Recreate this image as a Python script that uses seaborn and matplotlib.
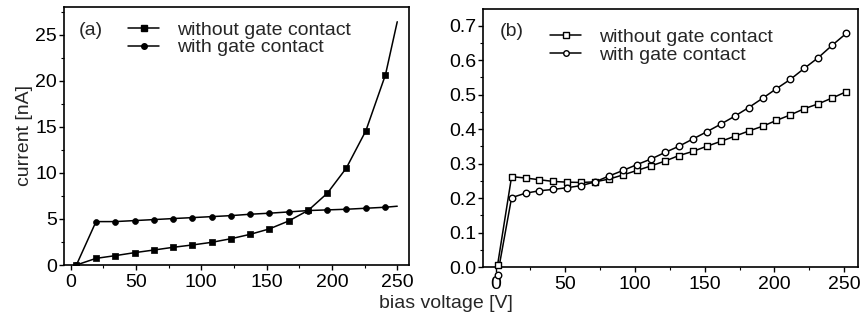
import matplotlib
matplotlib.use("Agg")
import matplotlib.pyplot as plt
from matplotlib.lines import Line2D
from matplotlib.ticker import MultipleLocator, FormatStrFormatter
import seaborn as sns

# ---- panel (a): current in nA ----
a_bias = [4.5, 19.5, 34, 49, 64, 78.5, 93, 108, 123, 137.5, 152, 167, 182, 196.5, 211, 226, 241]
a_without = [0.0, 0.72, 1.01, 1.34, 1.63, 1.92, 2.17, 2.46, 2.86, 3.33, 3.91, 4.78, 5.94, 7.79, 10.51, 14.57, 20.65]
a_with = [0.0, 4.71, 4.71, 4.82, 4.93, 5.04, 5.14, 5.25, 5.36, 5.51, 5.62, 5.76, 5.91, 5.98, 6.05, 6.16, 6.27]
# fitted curves continue to the end of the sweep
a_line_end_bias = 250
a_without_end = 26.4
a_with_end = 6.38

# ---- panel (b) ----
b_bias = [1.5, 11.5, 21.5, 31.5, 41.5, 51.5, 61.5, 71.5, 81.5, 91.5, 101.5, 111.5, 121.5,
          131.5, 141.5, 151.5, 161.5, 171.5, 181.5, 191.5, 201.5, 211.5, 221.5, 231.5, 241.5, 251.5]
b_without = [0.007, 0.262, 0.258, 0.253, 0.248, 0.246, 0.245, 0.247, 0.255, 0.267, 0.280, 0.293, 0.307,
             0.323, 0.335, 0.350, 0.364, 0.379, 0.394, 0.408, 0.425, 0.441, 0.459, 0.473, 0.490, 0.508]
b_with = [-0.022, 0.201, 0.214, 0.221, 0.225, 0.230, 0.236, 0.247, 0.264, 0.280, 0.297, 0.313, 0.332,
          0.350, 0.371, 0.392, 0.414, 0.437, 0.462, 0.489, 0.517, 0.544, 0.576, 0.607, 0.643, 0.677]

labels = ["without gate contact", "with gate contact"]

sns.set_theme(style="ticks")
plt.rcParams["font.family"] = ["Liberation Sans", "DejaVu Sans"]
plt.rcParams.update({
    "axes.linewidth": 1.2,
    "xtick.major.width": 1.0, "ytick.major.width": 1.0,
    "xtick.minor.width": 0.8, "ytick.minor.width": 0.8,
    "xtick.major.size": 3.5, "ytick.major.size": 3.5,
    "xtick.minor.size": 2.0, "ytick.minor.size": 2.0,
    "xtick.direction": "out", "ytick.direction": "out",
    "xtick.labelsize": 14, "ytick.labelsize": 14,
})

fig = plt.figure(figsize=(8.6, 3.2), dpi=100)
ax_a = fig.add_axes([64 / 860, 1 - 265 / 320, 345 / 860, 258 / 320])
ax_b = fig.add_axes([483 / 860, 1 - 267 / 320, 375 / 860, 258 / 320])

lw = 1.1
k = "black"

# (a) lines (including fitted extension) and filled markers
sns.lineplot(x=a_bias + [a_line_end_bias], y=a_without + [a_without_end], ax=ax_a,
             color=k, lw=lw, sort=False, estimator=None)
sns.lineplot(x=a_bias + [a_line_end_bias], y=a_with + [a_with_end], ax=ax_a,
             color=k, lw=lw, sort=False, estimator=None)
sns.scatterplot(x=a_bias, y=a_without, ax=ax_a, marker="s", s=22, color=k,
                edgecolor=k, linewidth=0.5, zorder=3)
sns.scatterplot(x=a_bias, y=a_with, ax=ax_a, marker="o", s=18, color=k,
                edgecolor=k, linewidth=0.5, zorder=3)

# (b) lines and open markers
sns.lineplot(x=b_bias, y=b_without, ax=ax_b, color=k, lw=lw, sort=False, estimator=None)
sns.lineplot(x=b_bias, y=b_with, ax=ax_b, color=k, lw=lw, sort=False, estimator=None)
sns.scatterplot(x=b_bias, y=b_without, ax=ax_b, marker="s", s=20, color="white",
                edgecolor=k, linewidth=1.0, zorder=3, clip_on=False)
sns.scatterplot(x=b_bias, y=b_with, ax=ax_b, marker="o", s=22, color="white",
                edgecolor=k, linewidth=1.0, zorder=3, clip_on=False)

ax_a.set_xlim(-5, 259)
ax_a.set_ylim(0, 28)
ax_a.xaxis.set_major_locator(MultipleLocator(50))
ax_a.xaxis.set_minor_locator(MultipleLocator(25))
ax_a.yaxis.set_major_locator(MultipleLocator(5))
ax_a.yaxis.set_minor_locator(MultipleLocator(2.5))

ax_b.set_xlim(-9, 260)
ax_b.set_ylim(0, 0.748)
ax_b.xaxis.set_major_locator(MultipleLocator(50))
ax_b.xaxis.set_minor_locator(MultipleLocator(25))
ax_b.yaxis.set_major_locator(MultipleLocator(0.1))
ax_b.yaxis.set_minor_locator(MultipleLocator(0.05))
ax_b.yaxis.set_major_formatter(FormatStrFormatter("%.1f"))

for ax in (ax_a, ax_b):
    for s in ax.spines.values():
        s.set_visible(True)
        s.set_color(k)
    ax.tick_params(axis="x", which="both", pad=3, top=False, colors=k)
    ax.tick_params(axis="y", which="both", pad=1.5, right=False, colors=k)
    ax.set_xlabel("")
    ax.set_ylabel("")

ax_a.set_ylabel("current [nA]", fontsize=14, labelpad=2)
fig.text(0.518, 0.025, "bias voltage [V]", fontsize=14, ha="center", va="bottom")

ax_a.text(0.043, 0.907, "(a)", transform=ax_a.transAxes, fontsize=14, va="center", ha="left")
ax_b.text(0.045, 0.911, "(b)", transform=ax_b.transAxes, fontsize=14, va="center", ha="left")

h_a = [Line2D([], [], color=k, lw=lw, marker="s", ms=4.2, mfc=k, mec=k),
       Line2D([], [], color=k, lw=lw, marker="o", ms=4.0, mfc=k, mec=k)]
h_b = [Line2D([], [], color=k, lw=lw, marker="s", ms=4.0, mfc="white", mec=k, mew=1.0),
       Line2D([], [], color=k, lw=lw, marker="o", ms=4.0, mfc="white", mec=k, mew=1.0)]

leg_kw = dict(frameon=False, fontsize=14, handlelength=1.6, handletextpad=0.9,
              labelspacing=0.0, borderpad=0, borderaxespad=0, loc="upper left", numpoints=1)
ax_a.legend(h_a, labels, bbox_to_anchor=(0.186, 0.945), **leg_kw)
ax_b.legend(h_b, labels, bbox_to_anchor=(0.179, 0.925), **leg_kw)

fig.savefig("out.png", dpi=100)
